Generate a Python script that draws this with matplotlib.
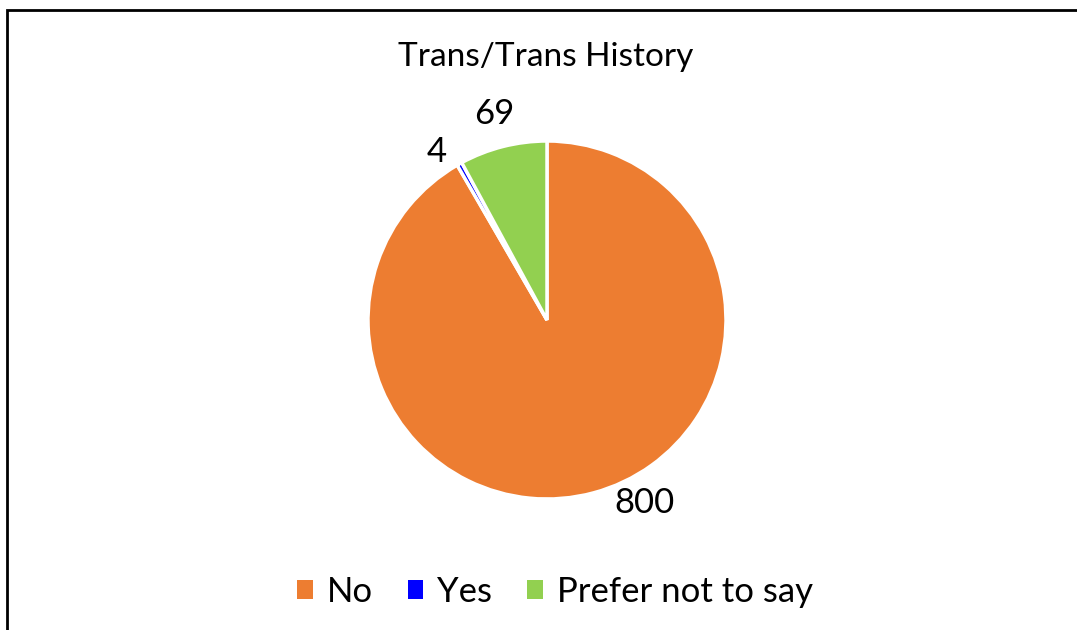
import numpy as np
import matplotlib.pyplot as plt
from matplotlib.patches import Rectangle, Patch

plt.rcParams['font.family'] = ['Lato', 'DejaVu Sans']

labels = ['No', 'Yes', 'Prefer not to say']
values = [800, 4, 69]
colors = ['#ED7D31', '#0000FF', '#92D050']

W, H = 1077, 630
fig = plt.figure(figsize=(W / 100, H / 100), dpi=100)
ax = fig.add_axes([0, 0, 1, 1])

# chart border (open at right and bottom, cut off in the original)
fig.patches.append(Rectangle((7 / W, -0.1), 1.2, (H - 10) / H + 0.1,
                             transform=fig.transFigure, fill=False,
                             edgecolor='black', linewidth=2))

cx, cy, r = 547, H - 320, 179
wedges, _ = ax.pie(values, colors=colors, startangle=90, counterclock=False,
                   radius=r, center=(cx, cy), frame=True,
                   wedgeprops=dict(edgecolor='white', linewidth=2.5))
ax.set_xlim(0, W)
ax.set_ylim(0, H)
ax.set_aspect('equal')
ax.axis('off')

# data labels outside the slices
dist = [1.16, 1.12, 1.19]
shift = [13, 4, 0]
for w, v, d, s in zip(wedges, values, dist, shift):
    ang = np.deg2rad((w.theta1 + w.theta2) / 2 + s)
    ax.text(cx + d * r * np.cos(ang), cy + d * r * np.sin(ang), str(v),
            ha='center', va='center', fontsize=25)

ax.text(546, H - 57, 'Trans/Trans History', ha='center', va='center', fontsize=24)

handles = [Patch(facecolor=c) for c in colors]
fig.legend(handles, labels, loc='center', bbox_to_anchor=(555 / W, 1 - 592 / H),
           ncol=3, frameon=False, fontsize=25, handlelength=0.45, handleheight=0.45,
           handletextpad=0.4, columnspacing=1.0)

fig.savefig('out.png', dpi=100)
